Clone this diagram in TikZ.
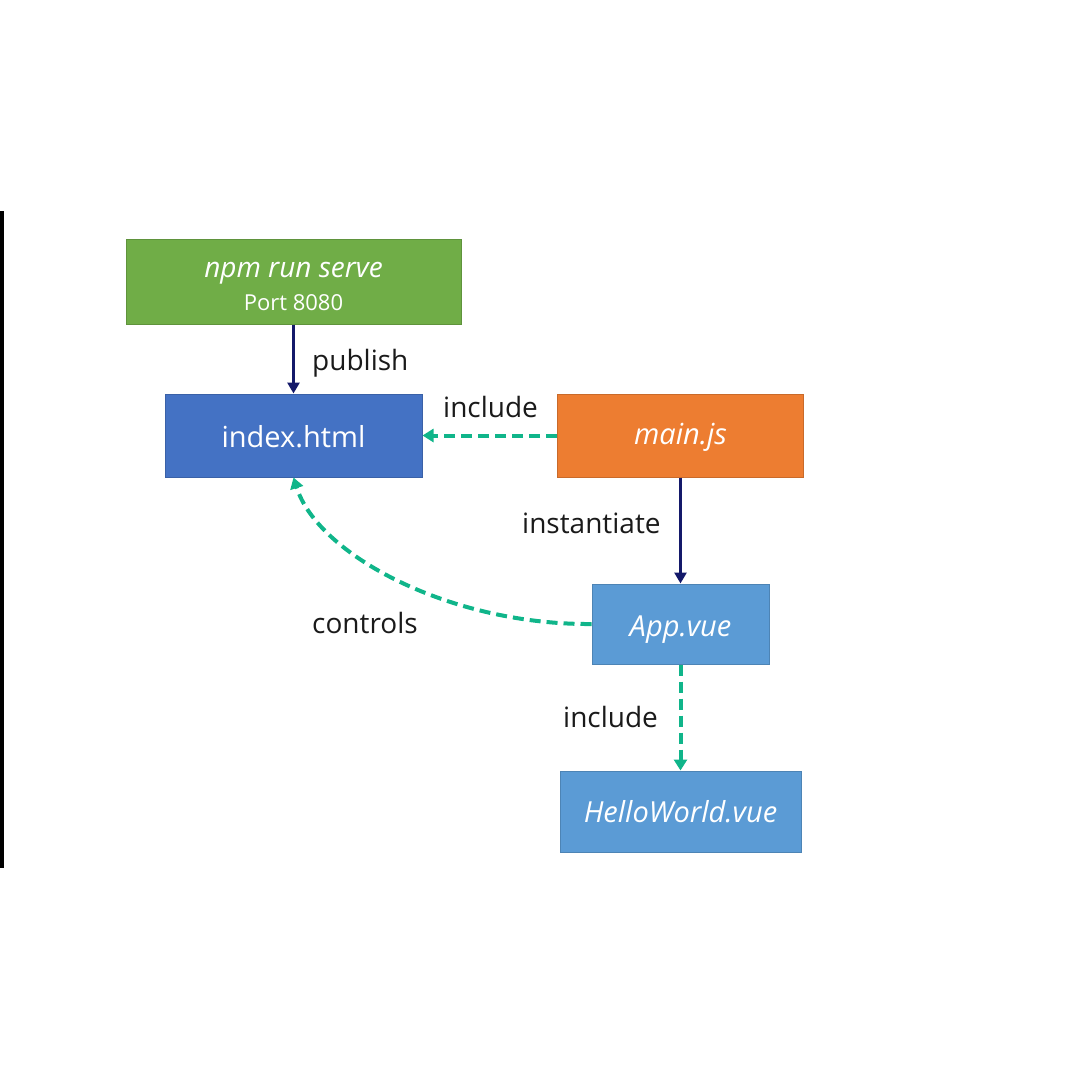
\documentclass[tikz,border=0pt]{standalone}
\usepackage{fontspec}
\setmainfont{Open Sans}
\usetikzlibrary{arrows.meta}
\definecolor{cgreen}{HTML}{70AD47}
\definecolor{cblue}{HTML}{4472C4}
\definecolor{corange}{HTML}{ED7D31}
\definecolor{clight}{HTML}{5B9BD5}
\definecolor{cteal}{HTML}{10B58A}
\definecolor{cnavy}{HTML}{14196A}
\definecolor{ctext}{HTML}{1A1A1A}
\tikzset{
  box/.style={rectangle, inner sep=0pt, text=white, font=\fontsize{29}{34}\selectfont, line width=1pt, text depth=0pt},
  lbl/.style={text=ctext, font=\fontsize{28}{32}\selectfont, inner sep=0pt, anchor=base west},
  solidarrow/.style={draw=cnavy, line width=3pt, -{Triangle[length=11pt,width=12pt]}},
  dasharrow/.style={draw=cteal, line width=4pt, dash pattern=on 11pt off 6pt, -{Triangle[length=11pt,width=13pt]}}
}
\begin{document}
\begin{tikzpicture}[x=1pt,y=-1pt]
\useasboundingbox (0,0) rectangle (1080,1080);
\fill[black] (0,211) rectangle (4,868);
\node[box, fill=cgreen, draw=cgreen!85!black, minimum width=335pt, minimum height=85pt] (npm) at (293.5,281.5) {};
\node[text=white, font=\fontsize{28}{32}\selectfont\itshape, inner sep=0pt, anchor=base] (npmtext) at (293.5,277) {npm run serve};
\node[text=white, font=\fontsize{22}{26}\selectfont, inner sep=0pt, anchor=base] (port) at (293.5,310) {Port 8080};
\node[box, fill=cblue, draw=cblue!85!black, minimum width=257pt, minimum height=83pt, text height=23pt] (index) at (293.5,435.5) {index.html};
\node[box, fill=corange, draw=corange!85!black, minimum width=246pt, minimum height=83pt, text height=17pt, font=\fontsize{29}{34}\selectfont\itshape] (main) at (680.5,435.5) {main.js};
\node[box, fill=clight, draw=clight!85!black, minimum width=177pt, minimum height=80pt, text height=25pt, font=\fontsize{29}{34}\selectfont\itshape] (app) at (680.5,624) {App.vue};
\node[box, fill=clight, draw=clight!85!black, minimum width=241pt, minimum height=81pt, text height=21pt, font=\fontsize{29}{34}\selectfont\itshape] (hello) at (680.5,811.5) {HelloWorld.vue};
\draw[solidarrow] (npm.south) -- (index.north);
\draw[dasharrow] (main.west) -- (index.east);
\draw[solidarrow] (main.south) -- (app.north);
\draw[dasharrow] (app.west) .. controls (450,625) and (318,555) .. (index.south);
\draw[dasharrow] (app.south) -- (hello.north);
\node[lbl] (lpublish) at (312,370) {publish};
\node[lbl] (linclude1) at (443,417) {include};
\node[lbl] (linst) at (522,533) {instantiate};
\node[lbl] (lcontrols) at (312,633) {controls};
\node[lbl] (linclude2) at (563,727) {include};
\end{tikzpicture}
\end{document}
